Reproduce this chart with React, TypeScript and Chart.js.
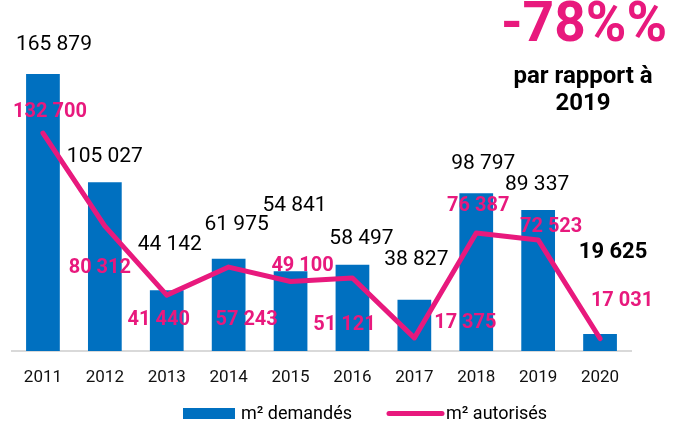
import React, { useEffect, useRef } from "react";
import { Chart, registerables } from "chart.js";

Chart.register(...registerables);

const years = ["2011", "2012", "2013", "2014", "2015", "2016", "2017", "2018", "2019", "2020"];
const demandes = [165879, 105027, 44142, 61975, 54841, 58497, 38827, 98797, 89337, 19625];
const autorises = [132700, 80312, 41440, 57243, 49100, 51121, 17375, 76387, 72523, 17031];

// label placement offsets (px) relative to each mark
const barLabelDx = [11, 0, 3, 8, 4, 9, 2, 7, -1, 13];
const barLabelDy = [-29, -25, -46, -34, -66, -26, -40, -30, -25, -81];
const lineLabelDx = [7, -5, -8, 18, 12, -8, 51, 2, 13, 22];
const lineLabelDy = [-21, 42, 25, 53, -16, 47, -15, -27, -13, -38];

const BLUE = "#0070C0";
const PINK = "#E8197D";
const FONT = "Roboto, 'Noto Sans', sans-serif";

const fmt = (v: number) => String(v).replace(/\B(?=(\d{3})+(?!\d))/g, " ");

const labelPlugin = {
  id: "customLabels",
  afterDatasetsDraw(chart: any) {
    const ctx = chart.ctx;
    ctx.save();
    ctx.textAlign = "center";
    ctx.textBaseline = "middle";
    const barMeta = chart.getDatasetMeta(0);
    barMeta.data.forEach((el: any, i: number) => {
      const last = i === demandes.length - 1;
      ctx.font = last ? `bold 22px ${FONT}` : `21px ${FONT}`;
      ctx.fillStyle = "#000";
      ctx.fillText(fmt(demandes[i]), el.x + barLabelDx[i], el.y + barLabelDy[i]);
    });
    const lineMeta = chart.getDatasetMeta(1);
    lineMeta.data.forEach((el: any, i: number) => {
      ctx.font = `bold 20px ${FONT}`;
      ctx.fillStyle = PINK;
      ctx.fillText(fmt(autorises[i]), el.x + lineLabelDx[i], el.y + lineLabelDy[i]);
    });
    ctx.restore();
  },
  afterDraw(chart: any) {
    const ctx = chart.ctx;
    ctx.save();
    // annotation
    ctx.textAlign = "center";
    ctx.textBaseline = "middle";
    ctx.fillStyle = PINK;
    ctx.font = `bold 55px ${FONT}`;
    ctx.fillText("-78%%", 584, 27);
    ctx.fillStyle = "#000";
    ctx.font = `bold 24px ${FONT}`;
    ctx.fillText("par rapport à", 583, 77);
    ctx.fillText("2019", 583, 104);
    // legend
    ctx.textAlign = "left";
    ctx.font = `18px ${FONT}`;
    ctx.fillStyle = BLUE;
    ctx.fillRect(183, 408, 52, 11);
    ctx.fillStyle = "#000";
    ctx.fillText("m² demandés", 241, 414);
    ctx.strokeStyle = PINK;
    ctx.lineWidth = 5;
    ctx.lineCap = "round";
    ctx.beginPath();
    ctx.moveTo(389, 413.5);
    ctx.lineTo(442, 413.5);
    ctx.stroke();
    ctx.fillStyle = "#000";
    ctx.fillText("m² autorisés", 446, 414);
    ctx.restore();
  },
};

export default function App() {
  const ref = useRef<HTMLCanvasElement | null>(null);
  useEffect(() => {
    if (!ref.current) return;
    const chart = new Chart(ref.current, {
      type: "bar",
      data: {
        labels: years,
        datasets: [
          {
            type: "bar",
            label: "m² demandés",
            data: demandes,
            backgroundColor: BLUE,
            categoryPercentage: 1,
            barPercentage: 0.545,
            order: 2,
          } as any,
          {
            type: "line",
            label: "m² autorisés",
            data: autorises,
            borderColor: PINK,
            backgroundColor: PINK,
            borderWidth: 5,
            pointRadius: 0,
            tension: 0,
            borderJoinStyle: "round",
            borderCapStyle: "round",
            order: 1,
          } as any,
        ],
      },
      options: {
        animation: false,
        responsive: true,
        maintainAspectRatio: false,
        layout: { padding: { top: 49, left: 12, right: 45, bottom: 0 } },
        plugins: { legend: { display: false }, tooltip: { enabled: false } },
        scales: {
          x: {
            offset: true,
            grid: { display: false, drawTicks: false },
            border: { display: true, color: "#d9d9d9", width: 2 },
            ticks: { color: "#111", font: { family: FONT, size: 17 }, padding: 17, maxRotation: 0 },
            afterFit: (s: any) => {
              s.height = 73;
            },
          },
          y: { display: false, min: 10000, max: 180000 },
        },
      },
      plugins: [labelPlugin],
    });
    return () => chart.destroy();
  }, []);
  return (
    <div style={{ position: "fixed", left: 0, top: 0, width: 676, height: 424, background: "#fff" }}>
      <canvas ref={ref} />
    </div>
  );
}
